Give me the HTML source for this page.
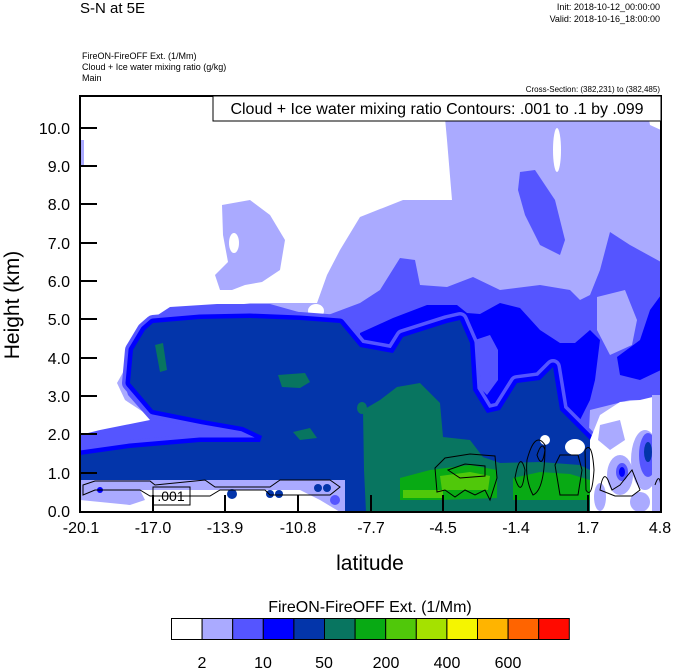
<!DOCTYPE html>
<html><head><meta charset="utf-8"><style>
body{margin:0;background:#fff;}
svg{display:block;font-family:"Liberation Sans",sans-serif;}
</style></head><body>
<svg width="674" height="668" viewBox="0 0 674 668" xmlns="http://www.w3.org/2000/svg">
<rect width="674" height="668" fill="#fff"/>
<text x="80" y="13" font-size="15">S-N at 5E</text>
<text x="660" y="10" font-size="9" text-anchor="end">Init: 2018-10-12_00:00:00</text>
<text x="660" y="22" font-size="9" text-anchor="end">Valid: 2018-10-16_18:00:00</text>
<text x="82" y="59" font-size="9">FireON-FireOFF Ext.   (1/Mm)</text>
<text x="82" y="70" font-size="9">Cloud + Ice water mixing ratio   (g/kg)</text>
<text x="82" y="81" font-size="9">Main</text>
<text x="660" y="92" font-size="8" text-anchor="end">Cross-Section: (382,231) to (382,485)</text>
<clipPath id="c"><rect x="80" y="96" width="581" height="416"/></clipPath>
<g clip-path="url(#c)">
<polygon fill="#aaaaff" points="443,96 645,96 650,125 661,130 661,512 80,512 80,437 160,423 125,400 117,383 130,360 150,325 190,313 250,303 317,303 327,275 340,250 360,217 403,200 452,200 447,140"/>
<rect x="80" y="140" width="4" height="25" fill="#aaaaff"/>
<polygon fill="#aaaaff" points="222,205 250,200 270,215 285,240 280,270 262,282 245,285 232,290 220,290 215,275 228,262 223,235"/>
<ellipse cx="234" cy="243" rx="5" ry="10" fill="#fff"/>
<ellipse cx="557" cy="150" rx="4" ry="22" fill="#fff"/>
<ellipse cx="316" cy="311" rx="8" ry="7" fill="#fff"/>
<polygon fill="#5555ff" points="147,322 170,307 217,304 270,304 320,318 360,303 380,290 400,258 415,260 420,285 447,287 473,277 500,290 540,285 570,290 580,300 590,295 600,270 610,232 630,245 661,262 661,400 630,400 610,405 590,410 585,512 80,512 80,435 100,430 150,420 128,395 125,385 135,360"/>
<polygon fill="#5555ff" points="520,172 535,170 555,200 565,240 560,255 540,245 525,215 518,190"/>
<polygon fill="#aaaaff" points="597,297 625,290 637,320 632,345 610,355 597,330"/>
<polygon fill="#0000ff" points="360,333 393,318 427,305 457,305 467,313 480,314 500,303 520,308 540,330 560,343 575,343 590,330 600,340 595,380 590,400 580,420 590,440 590,512 360,512"/>
<polygon fill="#0000ff" points="617,357 640,340 650,310 661,295 661,370 640,380 620,375"/>
<polygon fill="#5555ff" points="475,340 490,335 498,350 498,380 487,395 477,385"/>
<g stroke-linejoin="round">
<polygon fill="#5555ff" stroke="#5555ff" stroke-width="16" points="153,323 200,319 250,318 300,320 340,323 360,347 393,353 403,337 447,323 460,320 470,343 473,390 487,413 500,410 517,383 540,380 553,367 560,410 573,423 590,440 590,512 345,512 340,480 80,480 80,455 130,448 200,442 260,442 262,436 243,427 203,420 153,410 130,383 133,350 145,330"/>
<polygon fill="#0000ff" stroke="#0000ff" stroke-width="9" points="153,323 200,319 250,318 300,320 340,323 360,347 393,353 403,337 447,323 460,320 470,343 473,390 487,413 500,410 517,383 540,380 553,367 560,410 573,423 590,440 590,512 345,512 340,480 80,480 80,455 130,448 200,442 260,442 262,436 243,427 203,420 153,410 130,383 133,350 145,330"/>
<polygon fill="#0335aa" points="153,323 200,319 250,318 300,320 340,323 360,347 393,353 403,337 447,323 460,320 470,343 473,390 487,413 500,410 517,383 540,380 553,367 560,410 573,423 590,440 590,512 345,512 340,480 80,480 80,455 130,448 200,442 260,442 262,436 243,427 203,420 153,410 130,383 133,350 145,330"/>
</g>
<polygon fill="#087560" points="363,410 380,400 397,387 420,383 440,403 443,437 470,440 483,457 500,463 540,462 580,465 590,470 590,512 366,512 364,470"/>
<polygon fill="#087560" points="155,345 163,343 167,370 160,372"/>
<polygon fill="#087560" points="278,375 305,373 310,382 300,388 282,387"/>
<polygon fill="#087560" points="293,432 310,428 317,438 300,440"/>
<ellipse cx="362" cy="408" rx="5" ry="6" fill="#087560"/>
<polygon fill="#08aa14" points="400,478 430,470 470,465 497,470 497,498 440,500 400,500"/>
<polygon fill="#08aa14" points="513,478 540,472 570,474 590,480 590,500 513,500"/>
<polygon fill="#50c80a" points="440,476 470,472 490,476 488,490 442,490"/>
<rect x="403" y="490" width="40" height="8" fill="#50c80a"/>
<rect x="80" y="480" width="265" height="10" fill="#aaaaff"/>
<rect x="80" y="490" width="265" height="22" fill="#fff"/>
<polygon fill="#aaaaff" points="80,490 140,490 145,500 130,505 80,500"/>
<polygon fill="#aaaaff" points="200,490 300,490 320,500 340,512 345,512 345,490"/>
<circle cx="232" cy="494" r="5" fill="#0335aa"/>
<circle cx="270" cy="494" r="4" fill="#0335aa"/>
<circle cx="279" cy="494" r="4" fill="#0335aa"/>
<circle cx="318" cy="488" r="4" fill="#0335aa"/>
<circle cx="327" cy="488" r="4" fill="#0335aa"/>
<circle cx="100" cy="490" r="3" fill="#0000ff"/>
<circle cx="335" cy="500" r="5" fill="#5555ff"/>
<polygon fill="#fff" points="590,440 600,415 620,402 640,400 661,395 661,512 590,512"/>
<polygon fill="#aaaaff" points="600,425 620,420 625,440 610,450 598,440"/>
<ellipse cx="645" cy="460" rx="14" ry="30" fill="#aaaaff"/>
<ellipse cx="648" cy="455" rx="9" ry="22" fill="#5555ff"/>
<ellipse cx="648" cy="452" rx="4" ry="10" fill="#0335aa"/>
<ellipse cx="620" cy="475" rx="13" ry="20" fill="#aaaaff"/>
<ellipse cx="622" cy="472" rx="6" ry="9" fill="#5555ff"/>
<ellipse cx="622" cy="472" rx="3" ry="5" fill="#0000ff"/>
<rect x="652" y="395" width="9" height="117" fill="#aaaaff"/>
<ellipse cx="600" cy="497" rx="6" ry="14" fill="#aaaaff"/>
<ellipse cx="640" cy="502" rx="10" ry="10" fill="#aaaaff"/>
<ellipse cx="575" cy="447" rx="10" ry="8" fill="#fff"/>
<ellipse cx="545" cy="440" rx="5" ry="5" fill="#fff"/>
<g fill="none" stroke="#000" stroke-width="1">
<path d="M83,485 L95,481 L150,481 L155,485 L205,480 L215,487 L270,487 L280,480 L330,480 L340,487 L330,495 L270,495 L265,490 L220,490 L210,496 L150,496 L140,490 L95,490 L83,495 Z"/>
<path d="M435,468 L445,458 L470,454 L495,456 L497,478 L490,500 L485,490 L475,495 L465,490 L455,497 L445,490 L437,492 Z"/>
<path d="M448,470 L465,464 L485,466 L485,476 L460,478 Z"/>
<path d="M515,478 Q520,450 525,470 Q522,500 515,478 Z"/>
<path d="M527,460 Q535,430 545,445 Q545,490 533,495 Q525,480 527,460 Z"/>
<path d="M537,455 Q542,440 545,450 Q542,470 537,455 Z"/>
<path d="M555,465 L560,455 L578,455 L582,470 L578,495 L560,495 Z"/>
<path d="M585,450 Q592,440 594,470 Q592,500 586,490 Z"/>
<path d="M600,490 Q603,470 608,480 L612,490 L620,485 L628,475 L632,470 L636,480 L640,490 L632,496 L615,496 Z"/>
<path d="M655,485 Q660,470 661,490"/>
</g>
<rect x="153" y="487" width="37" height="18" fill="#fff" fill-opacity="0.01" stroke="#000"/>
<text x="171" y="501" font-size="14" text-anchor="middle">.001</text>
</g>
<rect x="80" y="96" width="581" height="416" fill="none" stroke="#000" stroke-width="2"/>
<rect x="213" y="96" width="448" height="25" fill="#fff" stroke="#000" stroke-width="1"/>
<text x="437" y="114" font-size="16" text-anchor="middle">Cloud + Ice water mixing ratio Contours: .001 to .1 by .099</text>
<g stroke="#000" stroke-width="2">
<line x1="80" y1="473" x2="97" y2="473"/><line x1="80" y1="434" x2="97" y2="434"/>
<line x1="80" y1="396" x2="97" y2="396"/><line x1="80" y1="358" x2="97" y2="358"/>
<line x1="80" y1="319" x2="97" y2="319"/><line x1="80" y1="281" x2="97" y2="281"/>
<line x1="80" y1="243" x2="97" y2="243"/><line x1="80" y1="204" x2="97" y2="204"/>
<line x1="80" y1="166" x2="97" y2="166"/><line x1="80" y1="128" x2="97" y2="128"/>
<line x1="153" y1="512" x2="153" y2="495"/><line x1="225" y1="512" x2="225" y2="495"/>
<line x1="298" y1="512" x2="298" y2="495"/><line x1="371" y1="512" x2="371" y2="495"/>
<line x1="443" y1="512" x2="443" y2="495"/><line x1="516" y1="512" x2="516" y2="495"/>
<line x1="588" y1="512" x2="588" y2="495"/>
</g>
<g font-size="16" text-anchor="end">
<text x="70" y="517">0.0</text><text x="70" y="479">1.0</text><text x="70" y="440">2.0</text>
<text x="70" y="402">3.0</text><text x="70" y="364">4.0</text><text x="70" y="325">5.0</text>
<text x="70" y="287">6.0</text><text x="70" y="249">7.0</text><text x="70" y="210">8.0</text>
<text x="70" y="172">9.0</text><text x="70" y="134">10.0</text>
</g>
<g font-size="16" text-anchor="middle">
<text x="81" y="533">-20.1</text><text x="153" y="533">-17.0</text><text x="225" y="533">-13.9</text>
<text x="298" y="533">-10.8</text><text x="371" y="533">-7.7</text><text x="443" y="533">-4.5</text>
<text x="516" y="533">-1.4</text><text x="588" y="533">1.7</text><text x="660" y="533">4.8</text>
</g>
<text x="370" y="570" font-size="21" text-anchor="middle">latitude</text>
<text transform="translate(19,305) rotate(-90)" font-size="21" text-anchor="middle">Height (km)</text>
<text x="370" y="612" font-size="16" text-anchor="middle">FireON-FireOFF Ext.  (1/Mm)</text>
<g stroke="#000" stroke-width="1">
<rect x="171.5" y="618.5" width="30.6" height="21" fill="#ffffff"/>
<rect x="202.1" y="618.5" width="30.6" height="21" fill="#aaaaff"/>
<rect x="232.7" y="618.5" width="30.6" height="21" fill="#5555ff"/>
<rect x="263.3" y="618.5" width="30.6" height="21" fill="#0000ff"/>
<rect x="293.9" y="618.5" width="30.6" height="21" fill="#0335aa"/>
<rect x="324.5" y="618.5" width="30.6" height="21" fill="#087560"/>
<rect x="355.1" y="618.5" width="30.6" height="21" fill="#08aa14"/>
<rect x="385.7" y="618.5" width="30.6" height="21" fill="#50c80a"/>
<rect x="416.3" y="618.5" width="30.6" height="21" fill="#a5e100"/>
<rect x="446.9" y="618.5" width="30.6" height="21" fill="#f5f500"/>
<rect x="477.5" y="618.5" width="30.6" height="21" fill="#ffb400"/>
<rect x="508.1" y="618.5" width="30.6" height="21" fill="#ff6400"/>
<rect x="538.7" y="618.5" width="30.6" height="21" fill="#ff0a00"/>
</g>
<g font-size="16" text-anchor="middle">
<text x="202" y="668">2</text><text x="263" y="668">10</text><text x="324" y="668">50</text>
<text x="386" y="668">200</text><text x="447" y="668">400</text><text x="508" y="668">600</text>
</g>
</svg>
</body></html>
